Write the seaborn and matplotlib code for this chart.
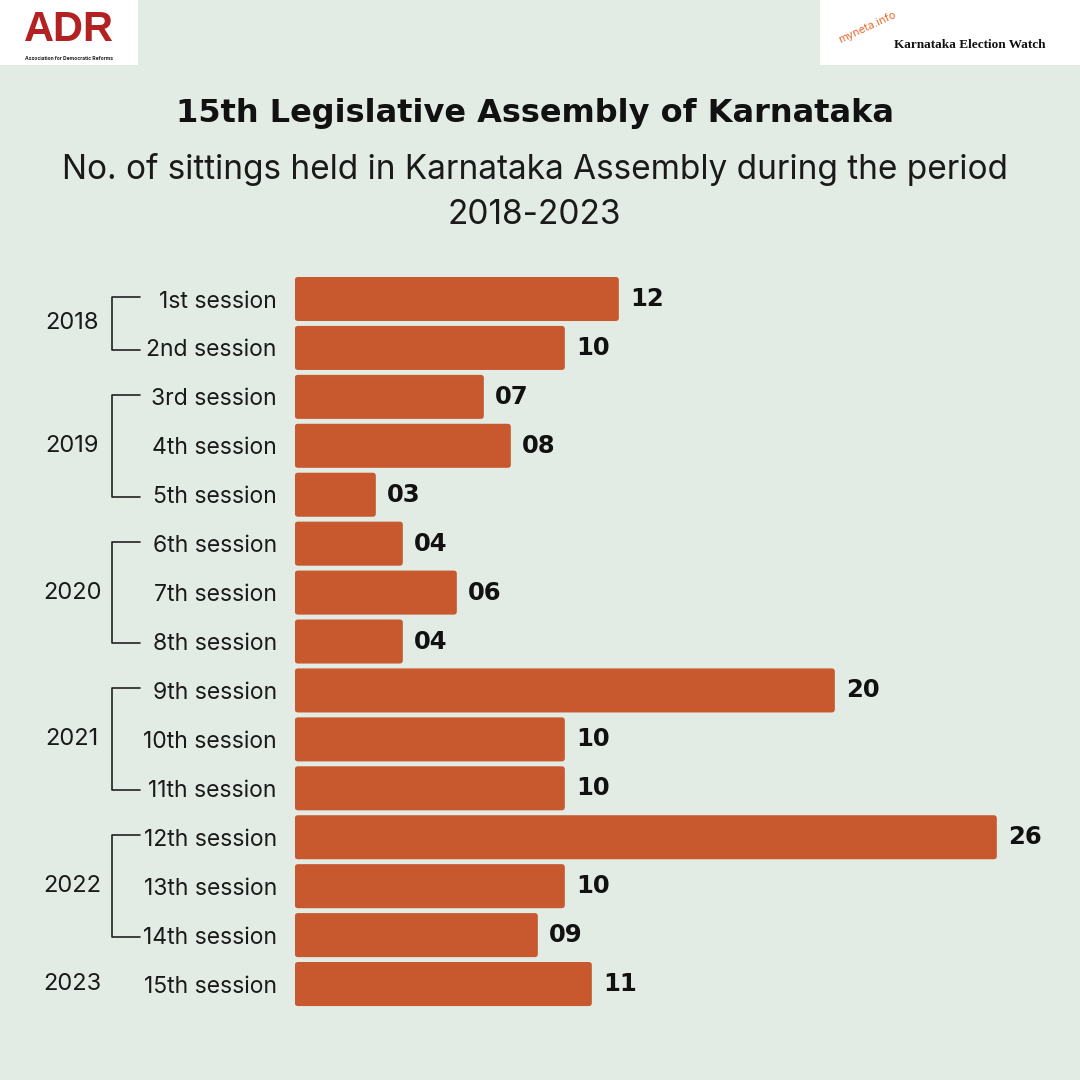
import matplotlib
matplotlib.use('Agg')
import matplotlib.pyplot as plt
import matplotlib.transforms as mtransforms
from matplotlib.patches import Rectangle, FancyBboxPatch
import seaborn as sns
import pandas as pd

sessions = ['1st session', '2nd session', '3rd session', '4th session', '5th session',
            '6th session', '7th session', '8th session', '9th session', '10th session',
            '11th session', '12th session', '13th session', '14th session', '15th session']
sittings = [12, 10, 7, 8, 3, 4, 6, 4, 20, 10, 10, 26, 10, 9, 11]
years = ['2018', '2019', '2020', '2021', '2022', '2023']
year_groups = [(0, 1), (2, 4), (5, 7), (8, 10), (11, 13), (14, 14)]

BG = '#e3ece4'
BAR = '#c8582e'

sns.set_theme(style='white')
plt.rcParams['font.family'] = ['Inter', 'DejaVu Sans']

df = pd.DataFrame({'session': sessions, 'sittings': sittings})

fig = plt.figure(figsize=(10.8, 10.8), dpi=100, facecolor=BG)
ax = fig.add_axes([0.273, 0.0662, 0.725, 0.6796])
ax.set_facecolor(BG)

sns.barplot(data=df, y='session', x='sittings', orient='h', color=BAR,
            saturation=1, width=0.9, linewidth=0, ax=ax)

# slightly rounded bar corners
for p in list(ax.patches):
    x0, y0 = p.get_x(), p.get_y()
    w, h = p.get_width(), p.get_height()
    rb = FancyBboxPatch((x0, y0), w, h, boxstyle='round,pad=0,rounding_size=0.12',
                        mutation_aspect=0.55, facecolor=BAR, edgecolor='none')
    p.remove()
    ax.add_patch(rb)

ax.set_xlim(0, 29)
ax.set_ylim(14.5, -0.5)
ax.set_xlabel('')
ax.set_ylabel('')
ax.set_xticks([])
ax.tick_params(axis='y', length=0, pad=13, labelsize=16.5, labelcolor='#1a1a1a')
for s in ax.spines.values():
    s.set_visible(False)

# value labels
for i, v in enumerate(sittings):
    ax.text(v + 0.42, i, '%02d' % v, va='center', ha='left', fontsize=17.5,
            fontweight='bold', family='DejaVu Sans', color='#111111')

# year brackets
trans = mtransforms.blended_transform_factory(fig.transFigure, ax.transData)
xv, xh, xy = 0.1037, 0.1296, 0.0667
for yr, (a, b) in zip(years, year_groups):
    mid = (a + b) / 2
    ax.text(xy, mid, yr, transform=trans, ha='center', va='center', fontsize=17,
            color='#1a1a1a', clip_on=False)
    if b > a:
        ax.plot([xh, xv, xv, xh], [a - 0.04, a - 0.04, b + 0.04, b + 0.04],
                transform=trans, color='#222222', lw=1.2, clip_on=False)

# titles
fig.text(0.495, 0.895, '15th Legislative Assembly of Karnataka', ha='center', va='center',
         fontsize=23, fontweight='bold', family='DejaVu Sans', color='#111111')
fig.text(0.495, 0.843, 'No. of sittings held in Karnataka Assembly during the period',
         ha='center', va='center', fontsize=24, color='#1a1a1a')
fig.text(0.495, 0.801, '2018-2023', ha='center', va='center', fontsize=24, color='#1a1a1a')

# logos (approximated)
fig.patches.append(Rectangle((0.0, 0.94), 0.128, 0.06, transform=fig.transFigure,
                             facecolor='white', edgecolor='none'))
fig.text(0.064, 0.972, 'ADR', ha='center', va='center', fontsize=30, fontweight='bold',
         color='#b22222', family=['Liberation Sans', 'DejaVu Sans'])
fig.text(0.064, 0.946, 'Association for Democratic Reforms', ha='center', va='center',
         fontsize=3.6, fontweight='bold', color='#222222')
fig.patches.append(Rectangle((0.759, 0.94), 0.241, 0.06, transform=fig.transFigure,
                             facecolor='white', edgecolor='none'))
fig.text(0.775, 0.975, 'myneta.info', ha='left', va='center', fontsize=8, rotation=25,
         color='#e8692a')
fig.text(0.828, 0.958, 'Karnataka Election Watch', ha='left', va='center', fontsize=9.5,
         fontweight='bold', color='#111111', family=['Liberation Serif', 'DejaVu Serif'])

fig.savefig('out.png', dpi=100, facecolor=BG)
